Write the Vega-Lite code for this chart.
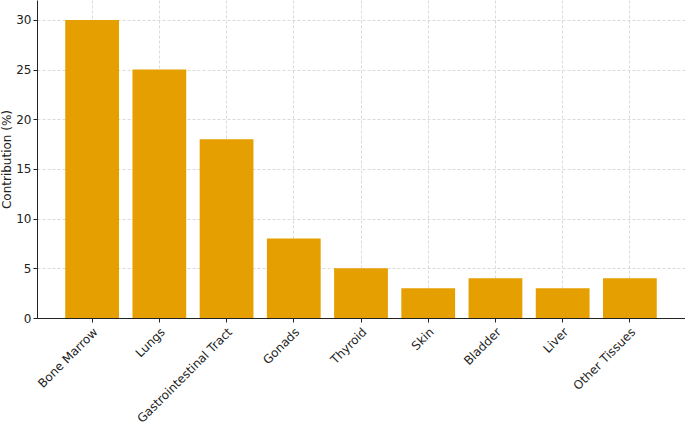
{
  "$schema": "https://vega.github.io/schema/vega-lite/v6.json",
  "width": 648,
  "height": 318,
  "autosize": {"type": "none"},
  "padding": {"left": 37, "top": 0, "right": 0, "bottom": 107},
  "config": {
    "view": {"stroke": null},
    "font": "DejaVu Sans",
    "axis": {
      "labelFont": "DejaVu Sans",
      "titleFont": "DejaVu Sans",
      "labelFontSize": 12,
      "titleFontSize": 12,
      "labelColor": "#222222",
      "titleColor": "#222222",
      "titleFontWeight": "normal",
      "domainColor": "#222222",
      "tickColor": "#222222",
      "tickSize": 4,
      "labelPadding": 2,
      "gridColor": "#d0d0d0",
      "gridDash": [3, 2],
      "gridWidth": 0.8
    }
  },
  "data": {
    "values": [
      {"tissue": "Bone Marrow", "value": 30},
      {"tissue": "Lungs", "value": 25},
      {"tissue": "Gastrointestinal Tract", "value": 18},
      {"tissue": "Gonads", "value": 8},
      {"tissue": "Thyroid", "value": 5},
      {"tissue": "Skin", "value": 3},
      {"tissue": "Bladder", "value": 4},
      {"tissue": "Liver", "value": 3},
      {"tissue": "Other Tissues", "value": 4}
    ]
  },
  "mark": {"type": "bar", "color": "#E69F00"},
  "encoding": {
    "x": {
      "field": "tissue",
      "type": "nominal",
      "sort": null,
      "scale": {"paddingInner": 0.2, "paddingOuter": 0.42},
      "axis": {
        "title": null,
        "labelAngle": -45,
        "labelAlign": "right",
        "labelBaseline": "top",
        "labelPadding": 4,
        "grid": true,
        "bandPosition": 0.5
      }
    },
    "y": {
      "field": "value",
      "type": "quantitative",
      "scale": {"domain": [0, 32], "nice": false},
      "axis": {
        "title": "Contribution (%)",
        "values": [0, 5, 10, 15, 20, 25, 30],
        "grid": true,
        "titlePadding": 2
      }
    }
  }
}
